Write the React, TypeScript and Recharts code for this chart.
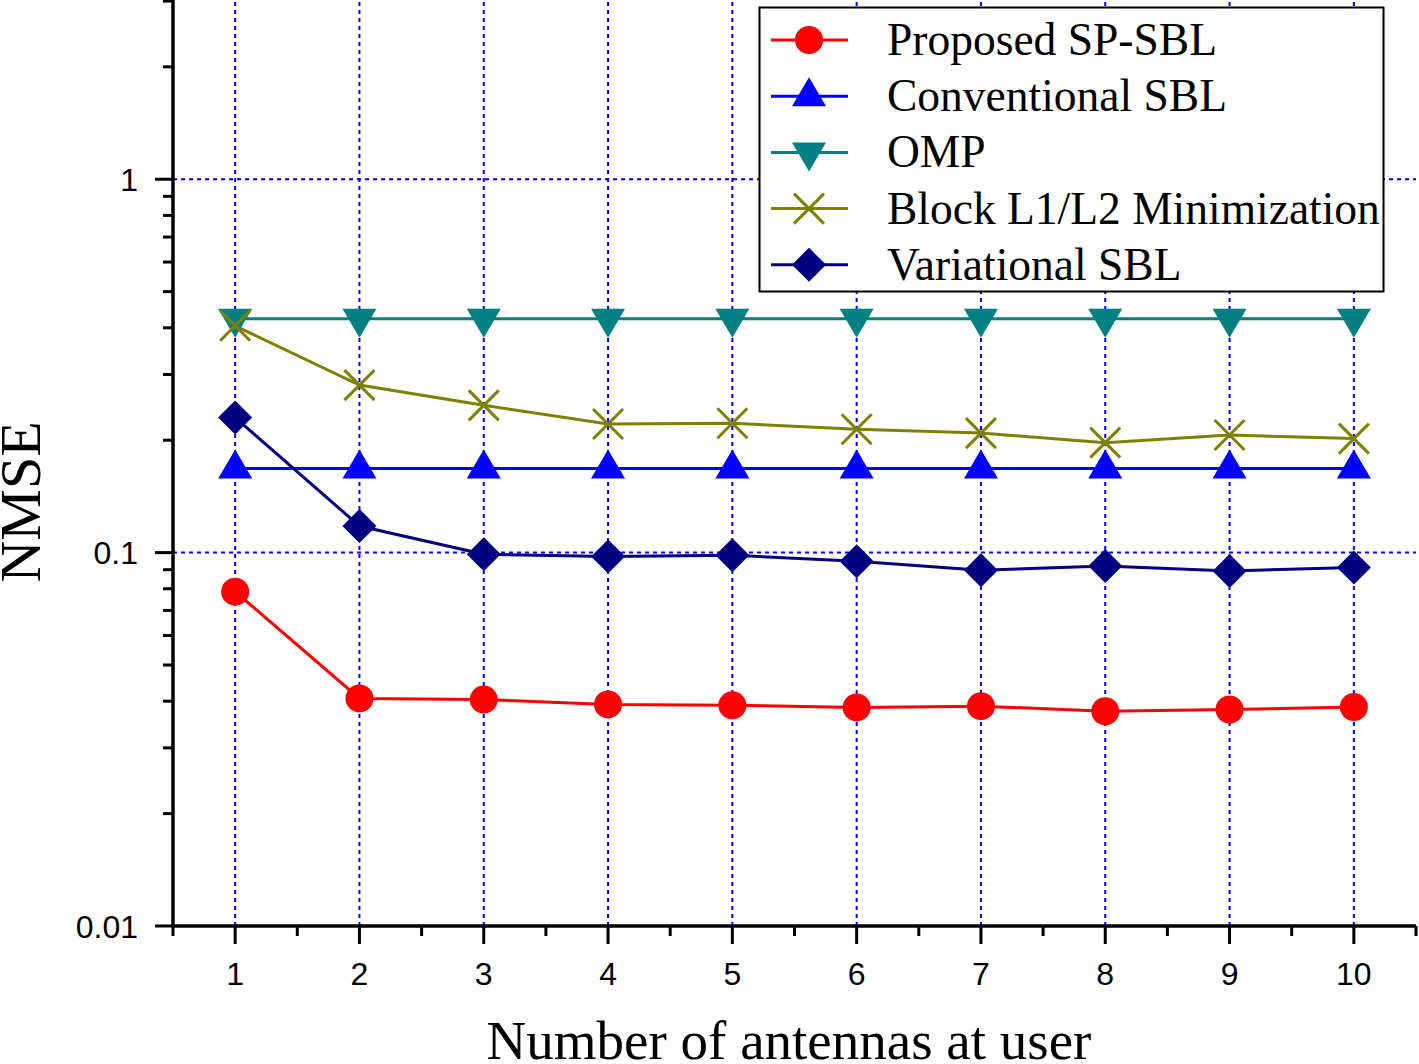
import React from 'react';
import { LineChart, Line, XAxis, YAxis, ReferenceLine, Legend } from 'recharts';

// ---- Data ----
const antennas = [1, 2, 3, 4, 5, 6, 7, 8, 9, 10];
const proposedSPSBL = [0.0786, 0.0407, 0.0404, 0.0392, 0.039, 0.0385, 0.0388, 0.0376, 0.038, 0.0386];
const conventionalSBL = [0.168, 0.168, 0.168, 0.168, 0.168, 0.168, 0.168, 0.168, 0.168, 0.168];
const omp = [0.423, 0.423, 0.423, 0.423, 0.423, 0.423, 0.423, 0.423, 0.423, 0.423];
const blockL1L2 = [0.405, 0.281, 0.248, 0.221, 0.222, 0.214, 0.209, 0.197, 0.2065, 0.202];
const variationalSBL = [0.23, 0.1178, 0.099, 0.0977, 0.0984, 0.0948, 0.0897, 0.0921, 0.0893, 0.0912];

const yMajorTicks = [0.01, 0.1, 1];
const yMajorLabels = ['0.01', '0.1', '1'];
const yMinorTicks = [0.02, 0.03, 0.04, 0.05, 0.06, 0.07, 0.08, 0.09, 0.2, 0.3, 0.4, 0.5, 0.6, 0.7, 0.8, 0.9, 2, 3];
const xMajorTicks = antennas;
const xMinorTicks = [0.5, 1.5, 2.5, 3.5, 4.5, 5.5, 6.5, 7.5, 8.5, 9.5, 10.5];
const yGridValues = [0.1, 1];

const xLabel = 'Number of antennas at user';
const yLabel = 'NMSE';

type Shape = 'circle' | 'triUp' | 'triDown' | 'cross' | 'diamond';

const series: { key: string; name: string; color: string; shape: Shape; values: number[] }[] = [
  { key: 'proposed', name: 'Proposed SP-SBL', color: '#FF0000', shape: 'circle', values: proposedSPSBL },
  { key: 'conventional', name: 'Conventional SBL', color: '#0000FF', shape: 'triUp', values: conventionalSBL },
  { key: 'omp', name: 'OMP', color: '#008080', shape: 'triDown', values: omp },
  { key: 'block', name: 'Block L1/L2 Minimization', color: '#808000', shape: 'cross', values: blockL1L2 },
  { key: 'variational', name: 'Variational SBL', color: '#000080', shape: 'diamond', values: variationalSBL },
];

const data = antennas.map((n, i) => {
  const row: Record<string, number> = { n };
  series.forEach((s) => {
    row[s.key] = s.values[i];
  });
  return row;
});

const SANS = '"Liberation Sans", Arial, sans-serif';
const SERIF = '"Liberation Serif", "Times New Roman", serif';

function Marker({ cx, cy, shape, color }: { cx: number; cy: number; shape: Shape; color: string }) {
  switch (shape) {
    case 'circle':
      return <circle cx={cx} cy={cy} r={14} fill={color} />;
    case 'triUp':
      return <polygon points={`${cx},${cy - 19} ${cx - 17},${cy + 10} ${cx + 17},${cy + 10}`} fill={color} />;
    case 'triDown':
      return <polygon points={`${cx - 17},${cy - 10} ${cx + 17},${cy - 10} ${cx},${cy + 19}`} fill={color} />;
    case 'diamond':
      return <polygon points={`${cx},${cy - 17} ${cx + 17},${cy} ${cx},${cy + 17} ${cx - 17},${cy}`} fill={color} />;
    case 'cross':
      return (
        <g stroke={color} strokeWidth={3}>
          <line x1={cx - 15} y1={cy - 15} x2={cx + 15} y2={cy + 15} />
          <line x1={cx - 15} y1={cy + 15} x2={cx + 15} y2={cy - 15} />
        </g>
      );
  }
  return null;
}

const YTick = (props: any) => {
  const { x, y, payload } = props;
  const v = payload.value;
  const mi = yMajorTicks.indexOf(v);
  const major = mi >= 0;
  return (
    <g>
      <line x1={x} x2={x - (major ? 18 : 10)} y1={y} y2={y} stroke="#000" strokeWidth={3} />
      {major && (
        <text x={x - 35} y={y} dy="0.36em" textAnchor="end" fontFamily={SANS} fontSize={32} fill="#000">
          {yMajorLabels[mi]}
        </text>
      )}
    </g>
  );
};

const XTick = (props: any) => {
  const { x, y, payload } = props;
  const v = payload.value;
  const major = xMajorTicks.includes(v);
  return (
    <g>
      <line x1={x} x2={x} y1={y} y2={y + (major ? 18 : 10)} stroke="#000" strokeWidth={3} />
      {major && (
        <text x={x} y={y + 59} textAnchor="middle" fontFamily={SANS} fontSize={32} fill="#000">
          {String(v)}
        </text>
      )}
    </g>
  );
};

const XLabel = () => (
  <text x={789} y={1059} textAnchor="middle" fontFamily={SERIF} fontSize={55} fill="#000">
    {xLabel}
  </text>
);

const YLabel = () => (
  <text
    x={40}
    y={502}
    textAnchor="middle"
    fontFamily={SERIF}
    fontSize={58}
    fill="#000"
    transform="rotate(-90, 40, 502)"
  >
    {yLabel}
  </text>
);

const LegendBox = () => {
  const rowH = 56.2;
  return (
    <svg width={628} height={288} style={{ display: 'block' }}>
      <rect x={1.5} y={1.5} width={624} height={284} fill="#fff" stroke="#000" strokeWidth={2} />
      {series.map((s, i) => {
        const cy = 34 + i * rowH;
        return (
          <g key={s.key}>
            <line x1={13} x2={90} y1={cy} y2={cy} stroke={s.color} strokeWidth={3} />
            <Marker cx={51} cy={cy} shape={s.shape} color={s.color} />
            <text x={129} y={cy + 15} fontFamily={SERIF} fontSize={45.5} fill="#000">
              {s.name}
            </text>
          </g>
        );
      })}
    </svg>
  );
};

export default function App() {
  return (
    <div style={{ position: 'absolute', left: 0, top: 0, width: 1419, height: 1064, background: '#fff' }}>
      <LineChart width={1419} height={1064} data={data} margin={{ top: 0, right: 3, bottom: 0, left: 0 }}>
        {xMajorTicks.map((v) => (
          <ReferenceLine key={`gx${v}`} x={v} stroke="#0000FF" strokeWidth={2} strokeDasharray="4 4" zIndex={-50} />
        ))}
        {yGridValues.map((v) => (
          <ReferenceLine key={`gy${v}`} y={v} stroke="#0000FF" strokeWidth={2} strokeDasharray="4 4" zIndex={-50} />
        ))}
        <XAxis
          dataKey="n"
          type="number"
          domain={[0.5, 10.5]}
          allowDataOverflow
          ticks={[...xMinorTicks, ...xMajorTicks].sort((a, b) => a - b)}
          interval={0}
          height={138}
          tickSize={0}
          tickMargin={0}
          tickLine={false}
          axisLine={{ stroke: '#000', strokeWidth: 3.5 }}
          tick={<XTick />}
          label={{ content: () => <XLabel /> }}
        />
        <YAxis
          type="number"
          scale="log"
          domain={[0.01, 3.02]}
          allowDataOverflow
          ticks={[...yMajorTicks, ...yMinorTicks].sort((a, b) => a - b)}
          interval={0}
          width={173}
          tickSize={0}
          tickMargin={0}
          tickLine={false}
          axisLine={{ stroke: '#000', strokeWidth: 3.5 }}
          tick={<YTick />}
          label={{ content: () => <YLabel /> }}
        />
        {series.map((s) => (
          <Line
            key={s.key}
            dataKey={s.key}
            name={s.name}
            stroke={s.color}
            strokeWidth={3}
            isAnimationActive={false}
            activeDot={false}
            dot={(p: any) => (
              <Marker key={`${s.key}-${p.index}`} cx={p.cx} cy={p.cy} shape={s.shape} color={s.color} />
            )}
          />
        ))}
        <Legend
          layout="vertical"
          align="center"
          verticalAlign="middle"
          wrapperStyle={{ position: 'absolute', left: 758, top: 6, width: 628, height: 288 }}
          content={() => <LegendBox />}
        />
      </LineChart>
    </div>
  );
}
